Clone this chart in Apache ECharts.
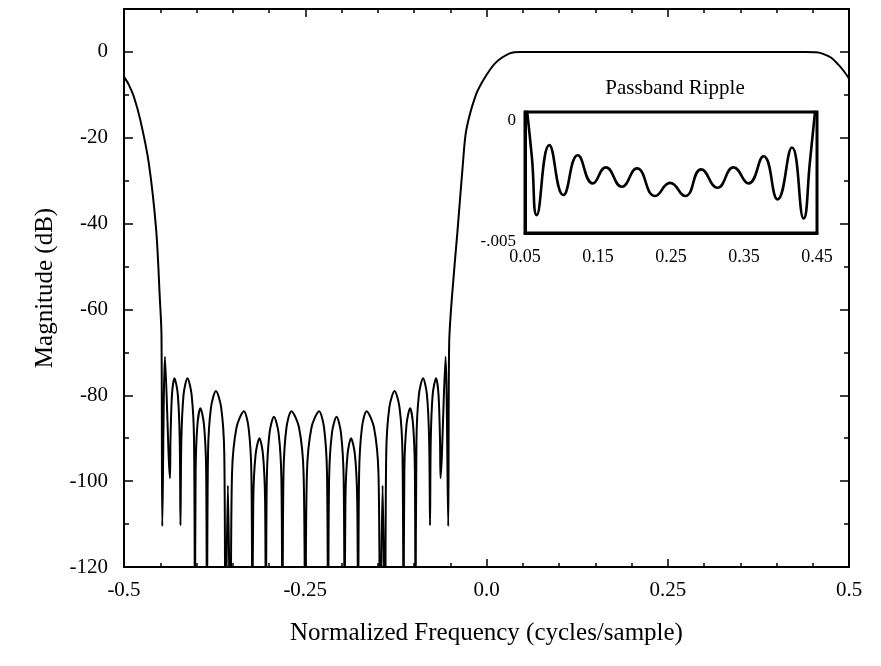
<!DOCTYPE html>
<html>
<head>
<meta charset="utf-8">
<title>Magnitude response</title>
<script src="https://cdn.jsdelivr.net/npm/echarts@6.0.0/dist/echarts.min.js"></script>
<style>
  html, body { margin: 0; padding: 0; background: #fff; }
  #main { width: 881px; height: 666px; }
</style>
</head>
<body>
<div id="main"></div>
<script>
// main response (dB vs cycles/sample)
var freq = [
  // transition from -0.5
  -0.5, -0.4938, -0.4865, -0.4773, -0.4658, -0.4556, -0.4507, -0.4483,
  // stopband, left half
  -0.4472, -0.4435, -0.4366, -0.4359, -0.4338, -0.4304, -0.4258, -0.4231,
  -0.4221, -0.4209, -0.4178, -0.4125, -0.4068, -0.4034,
  -0.4021, -0.4012, -0.3987, -0.3946, -0.3897, -0.3867,
  -0.3856, -0.3841, -0.3800, -0.3732, -0.3660, -0.3617,
  -0.3601, -0.3567, -0.3532, -0.3510, -0.3448, -0.3346, -0.3282, -0.3243,
  -0.3229, -0.3217, -0.3185, -0.3132, -0.3083, -0.3054,
  -0.3043, -0.3030, -0.2993, -0.2932, -0.2868, -0.2829,
  -0.2815, -0.2800, -0.2759, -0.2691, -0.2586, -0.2523,
  -0.25,
  // stopband, right half
  -0.2477, -0.2414, -0.2309, -0.2241, -0.2200,
  -0.2185, -0.2171, -0.2132, -0.2068, -0.2007, -0.1970,
  -0.1957, -0.1946, -0.1917, -0.1868, -0.1815, -0.1783,
  -0.1771, -0.1757, -0.1718, -0.1654, -0.1552, -0.1490,
  -0.1468, -0.1433, -0.1399, -0.1383, -0.1340, -0.1268, -0.1200, -0.1159,
  -0.1144, -0.1133, -0.1103, -0.1054, -0.1013, -0.0988,
  -0.0979, -0.0966, -0.0932, -0.0875, -0.0822, -0.0791,
  -0.0779, -0.0769, -0.0742, -0.0696, -0.0662, -0.0641,
  -0.0634, -0.0565, -0.0528,
  // transition up to the passband, passband, roll-off to 0.5
  -0.0515, -0.0476, -0.0399, -0.0325, -0.0279, -0.0155, -0.0041, 0.0121, 0.0327, 0.0465,
  0.25, 0.44, 0.455, 0.465, 0.475, 0.485, 0.493, 0.5
];
var magDb = [
  -5.8, -7.5, -10.4, -16, -25.9, -41.5, -57, -66,
  -110.5, -71, -99.3, -90.5, -79.8, -76, -79.8, -90.5,
  -110.3, -90.5, -79.8, -76, -79.8, -90.5,
  -140, -97.5, -86.8, -83, -86.8, -97.5,
  -140, -93.5, -82.8, -79, -82.8, -93.5,
  -140, -101, -140, -98.2, -87.5, -83.7, -87.5, -98.2,
  -140, -104.5, -93.8, -90, -93.8, -104.5,
  -140, -99.5, -88.8, -85, -88.8, -99.5,
  -140, -98.2, -87.5, -83.7, -87.5, -98.2,
  -140,
  -98.2, -87.5, -83.7, -87.5, -98.2,
  -140, -99.5, -88.8, -85, -88.8, -99.5,
  -140, -104.5, -93.8, -90, -93.8, -104.5,
  -140, -98.2, -87.5, -83.7, -87.5, -98.2,
  -140, -101, -140, -93.5, -82.8, -79, -82.8, -93.5,
  -140, -97.5, -86.8, -83, -86.8, -97.5,
  -140, -90.5, -79.8, -76, -79.8, -90.5,
  -110.3, -90.5, -79.8, -76, -79.8, -90.5,
  -99.3, -71, -110.5,
  -68, -57, -41.5, -25.9, -18.2, -10.4, -6.5, -2.6, -0.3, 0,
  0, 0, -0.1, -0.5, -1.3, -2.9, -4.5, -6.2
];

// passband ripple inset (dB)
var rippleFreq = [
  0.05, 0.0595, 0.0660, 0.0833, 0.1025, 0.1223, 0.1428, 0.1607, 0.1826, 0.2032, 0.2283,
  0.2488, 0.2694, 0.2913, 0.3137, 0.3356, 0.3562, 0.3768, 0.3960, 0.4157, 0.4316, 0.4405, 0.45
];
var rippleDb = [
  0.0008, -0.0019, -0.00426, -0.00137, -0.00343, -0.00179, -0.00295, -0.00229, -0.00309, -0.00233, -0.00347,
  -0.00293, -0.00347, -0.00237, -0.00313, -0.00229, -0.00295, -0.00183, -0.00361, -0.00147, -0.00440, -0.0020, 0.0008
];

var serif = 'Liberation Serif';

function pairs(xs, ys) {
  var out = [];
  for (var i = 0; i < xs.length; i++) out.push([xs[i], ys[i]]);
  return out;
}

var chart = echarts.init(document.getElementById('main'), null, { renderer: 'canvas' });

var xTicks = {
  type: 'value', gridIndex: 0, min: -0.5, max: 0.5, interval: 0.25,
  axisLine: { show: true, onZero: false, lineStyle: { color: '#000', width: 2 } },
  axisTick: { show: true, inside: true, length: 8, lineStyle: { color: '#000', width: 1.5 } },
  minorTick: { show: true, splitNumber: 5, length: 4, lineStyle: { color: '#000', width: 1.5 } },
  splitLine: { show: false }
};
var yTicks = {
  type: 'value', gridIndex: 0, min: -120, max: 10, interval: 20,
  axisLine: { show: true, onZero: false, lineStyle: { color: '#000', width: 2 } },
  axisTick: { show: true, inside: true, length: 9, lineStyle: { color: '#000', width: 1.5 } },
  minorTick: { show: true, splitNumber: 2, length: 5, lineStyle: { color: '#000', width: 1.5 } },
  splitLine: { show: false }
};

var option = {
  animation: false,
  backgroundColor: '#fff',
  title: {
    text: 'Passband Ripple',
    left: 670, top: 73, textAlign: 'center',
    textStyle: { fontFamily: serif, fontSize: 21, fontWeight: 'normal', color: '#000' }
  },
  grid: [
    { left: 124, right: 32, top: 9, bottom: 99 },
    { left: 525, right: 64, top: 112, bottom: 433, show: true, borderColor: '#000', borderWidth: 3 }
  ],
  xAxis: [
    Object.assign({}, xTicks, {
      position: 'bottom',
      axisLabel: {
        margin: 13, fontFamily: serif, fontSize: 21, color: '#000',
        formatter: function (v) { return v === 0 ? '0.0' : String(v); }
      },
      name: 'Normalized Frequency (cycles/sample)',
      nameLocation: 'middle', nameGap: 54,
      nameTextStyle: { fontFamily: serif, fontSize: 25, color: '#000' }
    }),
    Object.assign({}, xTicks, { position: 'top', axisLabel: { show: false } }),
    {
      type: 'value', gridIndex: 1, min: 0.05, max: 0.45, interval: 0.1,
      axisLine: { show: true, onZero: false, lineStyle: { color: '#000', width: 3 } },
      axisTick: { show: false },
      splitLine: { show: false },
      axisLabel: {
        margin: 15, fontFamily: serif, fontSize: 18, color: '#000',
        formatter: function (v) { return v.toFixed(2); }
      }
    }
  ],
  yAxis: [
    Object.assign({}, yTicks, {
      position: 'left',
      axisLabel: {
        margin: 16, fontFamily: serif, fontSize: 21, color: '#000', showMaxLabel: false,
        formatter: function (v) { return v > 0 ? '' : String(v); }
      },
      name: 'Magnitude (dB)',
      nameLocation: 'middle', nameGap: 66,
      nameTextStyle: { fontFamily: serif, fontSize: 25, color: '#000' }
    }),
    Object.assign({}, yTicks, { position: 'right', axisLabel: { show: false } }),
    {
      type: 'value', gridIndex: 1, min: -0.005, max: 0, interval: 0.005,
      axisLine: { show: true, onZero: false, lineStyle: { color: '#000', width: 3 } },
      axisTick: { show: false },
      splitLine: { show: false },
      axisLabel: {
        margin: 9, fontFamily: serif, fontSize: 17, color: '#000',
        verticalAlign: 'top',
        formatter: function (v) { return v === 0 ? '0' : '-.005'; }
      }
    }
  ],
  series: [
    {
      type: 'line', xAxisIndex: 0, yAxisIndex: 0,
      data: pairs(freq, magDb),
      smooth: 0.3, showSymbol: false, clip: true,
      lineStyle: { color: '#000', width: 2 }
    },
    {
      type: 'line', xAxisIndex: 2, yAxisIndex: 2,
      data: pairs(rippleFreq, rippleDb),
      smooth: 0.5, showSymbol: false, clip: true,
      lineStyle: { color: '#000', width: 2.6 }
    }
  ]
};

chart.setOption(option);
</script>
</body>
</html>
